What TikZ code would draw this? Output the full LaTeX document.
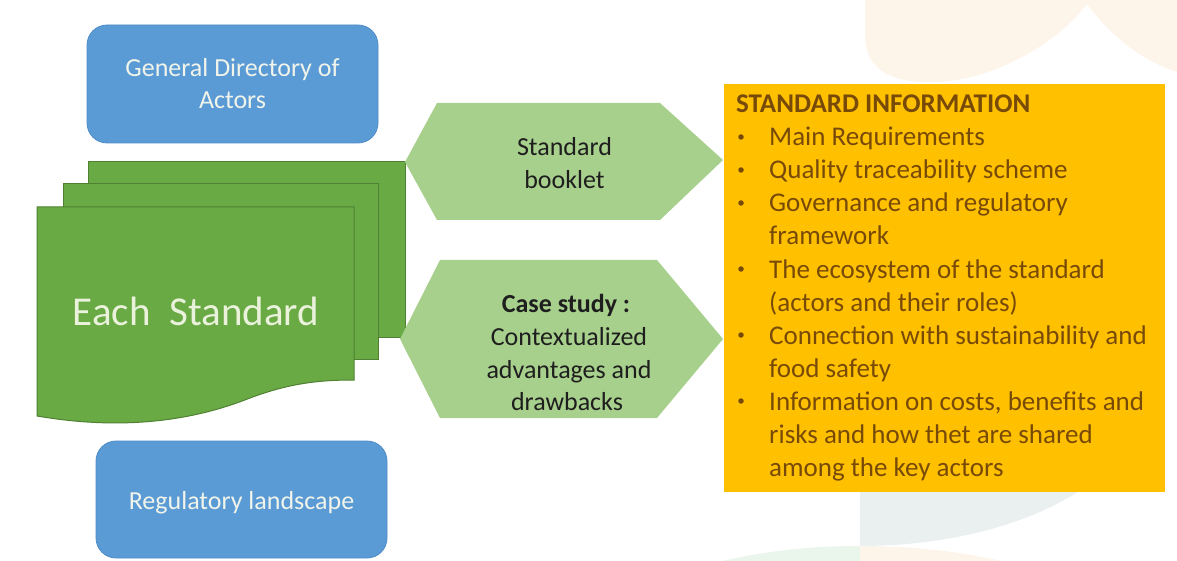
\documentclass[tikz,border=0pt]{standalone}
\usepackage{fontspec}
\setmainfont{Carlito}
\definecolor{bgpeach}{RGB}{253,244,234}
\definecolor{bgteal}{RGB}{233,240,239}
\definecolor{bggreen}{RGB}{234,245,236}
\definecolor{boxblue}{RGB}{91,155,213}
\definecolor{boxblueedge}{RGB}{80,140,200}
\definecolor{bluetext}{RGB}{240,244,234}
\definecolor{pagegreen}{RGB}{106,170,69}
\definecolor{pageedge}{RGB}{80,128,50}
\definecolor{pagetext}{RGB}{234,242,220}
\definecolor{hexgreen}{RGB}{168,208,141}
\definecolor{hextext}{RGB}{30,30,30}
\definecolor{infoorange}{RGB}{255,192,0}
\definecolor{infotext}{RGB}{120,74,8}
\tikzset{
  bluebox/.style={fill=boxblue, draw=boxblueedge, line width=0.8pt, rounded corners=20pt},
  bluetxt/.style={anchor=base, inner sep=0pt, text=bluetext, font=\fontsize{26}{32}\selectfont},
  pagebox/.style={fill=pagegreen, draw=pageedge, line width=1pt},
  hexbox/.style={fill=hexgreen},
  hextxt/.style={anchor=base, inner sep=0pt, text=hextext, font=\fontsize{26}{33}\selectfont},
  infotxt/.style={anchor=base west, inner sep=0pt, text=infotext, font=\fontsize{27}{33}\selectfont},
  bulletdot/.style={circle, fill=infotext, inner sep=0pt, minimum size=5.5pt},
}
\begin{document}
\begin{tikzpicture}[x=1pt,y=-1pt]
\useasboundingbox (0,0) rectangle (1177,561);
% faint background decoration
\fill[bgpeach] (865,0) -- (865,40) .. controls (868,75) and (900,84) .. (940,82)
  .. controls (1000,78) and (1060,40) .. (1087,4) -- (1087,0) -- cycle;
\fill[bgpeach] (1087,0) -- (1087,4) .. controls (1110,35) and (1140,60) .. (1177,72) -- (1177,0) -- cycle;
\begin{scope}
  \clip (860,380) rectangle (1177,561);
  \fill[bgteal] (860,400) ellipse[x radius=280pt, y radius=146pt];
\end{scope}
\begin{scope}
  \clip (600,546) rectangle (860,561);
  \fill[bggreen] (860,640) ellipse[x radius=253pt, y radius=94pt];
\end{scope}
\begin{scope}
  \clip (860,546) rectangle (1177,561);
  \fill[bgpeach] (860,640) ellipse[x radius=260pt, y radius=94pt];
\end{scope}

% blue boxes
\draw[bluebox] (87,25) rectangle (378,143);
\node[bluetxt] (gd1) at (232.5,77) {General Directory of};
\node[bluetxt] (gd2) at (232.5,109) {Actors};
\draw[bluebox] (96,441) rectangle (387,558);
\node[bluetxt] (reg) at (241.5,509) {Regulatory landscape};

% stacked documents
\draw[pagebox] (88,162) rectangle (405,337);
\draw[pagebox] (63,184) rectangle (378,359);
\draw[pagebox] (37,207) -- (354,207) -- (354,380)
  .. controls (320,380) and (290,383) .. (250,398)
  .. controls (200,418) and (130,432) .. (37,416) -- cycle;
\node[anchor=base, inner sep=0pt, text=pagetext, font=\fontsize{41}{48}\selectfont]
  (each) at (196,325) {Each\hspace{0.45em}Standard};

% hexagons
\fill[hexbox] (405,162) -- (437,103) -- (660,103) -- (723,160) -- (660,220) -- (437,220) -- cycle;
\node[hextxt] (sb1) at (564.5,156) {Standard};
\node[hextxt] (sb2) at (564.5,189) {booklet};
\fill[hexbox] (400,339) -- (440,260) -- (657,260) -- (723,339) -- (657,418) -- (440,418) -- cycle;
\node[hextxt, font=\fontsize{26}{33}\selectfont\bfseries] (cs1) at (566,312) {Case study :};
\node[hextxt] (cs2) at (569,345) {Contextualized};
\node[hextxt] (cs3) at (569,378) {advantages and};
\node[hextxt] (cs4) at (567,410) {drawbacks};

% standard information box
\fill[infoorange] (724,84) rectangle (1165,492);
\node[infotxt, font=\fontsize{27}{33}\selectfont\bfseries] (title) at (736,113) {STANDARD INFORMATION};
\foreach \y [count=\k] in {146,179,212,278,344,410} {
  \node[bulletdot] (b\k) at (741,\y-9) {};
}
\node[infotxt] (i1) at (769,146) {Main Requirements};
\node[infotxt] (i2) at (769,179) {Quality traceability scheme};
\node[infotxt] (i3) at (769,212) {Governance and regulatory};
\node[infotxt] (i3b) at (769,245) {framework};
\node[infotxt] (i4) at (769,278) {The ecosystem of the standard};
\node[infotxt] (i4b) at (769,311) {(actors and their roles)};
\node[infotxt] (i5) at (769,344) {Connection with sustainability and};
\node[infotxt] (i5b) at (769,377) {food safety};
\node[infotxt] (i6) at (769,410) {Information on costs, benefits and};
\node[infotxt] (i6b) at (769,443) {risks and how thet are shared};
\node[infotxt] (i6c) at (769,476) {among the key actors};
\end{tikzpicture}
\end{document}
